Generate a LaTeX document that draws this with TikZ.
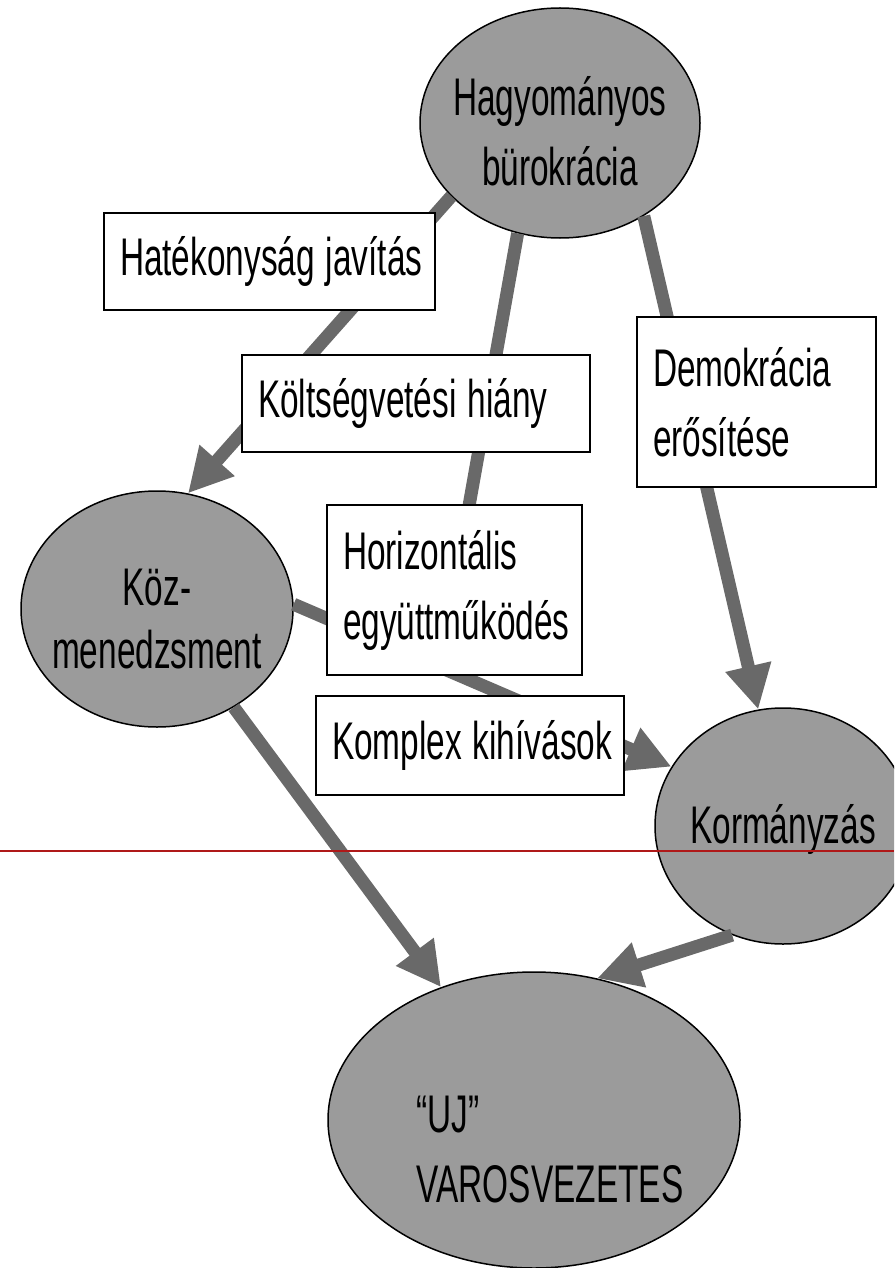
\documentclass[tikz,border=0pt]{standalone}
\usepackage{fontspec}
\setmainfont{Liberation Sans}[FakeStretch=0.63]
\usepackage{tikz}
\usetikzlibrary{shapes.geometric, arrows.meta}
\definecolor{bubble_grey}{RGB}{155, 155, 155}
\definecolor{arrow_grey}{RGB}{105, 105, 105}
\definecolor{scan_red}{RGB}{175, 25, 25}
\tikzstyle{bubble} = [ellipse, draw=black, line width=1.5pt, fill=bubble_grey, inner sep=0pt]
\tikzstyle{textbox} = [rectangle, draw=black, line width=2pt, fill=white, inner xsep=16pt, inner ysep=0pt, align=left, execute at begin node={\spaceskip=11pt\relax}]
\tikzstyle{arrow} = [line width=13pt, draw=arrow_grey, -{Triangle[length=44pt, width=44pt]}]
\tikzstyle{shaft} = [line width=13pt, draw=arrow_grey]

\begin{document}
\begin{tikzpicture}[x=1pt, y=-1pt, font=\fontsize{53}{70}\selectfont, every label/.style={align=center}]
        \clip (0,0) rectangle (894,1268);

        \node (hag) [bubble, minimum width=280pt, minimum height=230pt, label={[yshift=-8pt]center:{Hagyományos\\bürokrácia}}] at (560,123) {};
        \node (koz) [bubble, minimum width=272pt, minimum height=236pt, label={[yshift=-10pt, font=\fontsize{53}{63}\selectfont]center:{Köz-\\menedzsment}}] at (157,609) {};
        \node (korm) [bubble, minimum width=256pt, minimum height=236pt, label={[yshift=-3pt]center:{Kormányzás}}] at (783,826) {};
        \node (uj) [bubble, minimum width=412pt, minimum height=296pt, label={[xshift=16pt, yshift=-30pt, align=left]center:{“UJ”\\VAROSVEZETES}}] at (534,1120) {};
        \coordinate (join) at (454,590);

        \draw [arrow] (hag.214) -- (koz.75);
        \draw [shaft] (hag.249) -- (join);
        \draw [arrow] (hag.-48) -- (korm.102);
        \draw [arrow] (koz.2) -- (korm.152);
        \draw [arrow] (koz.-52) -- (uj.125);
        \draw [arrow] (korm.245) -- (uj.66);

        \node (hatekony) [textbox, text width=299pt, minimum height=97pt] at (269.5,261.5) {\mbox{Hatékonyság javítás}};
        \node (koltseg) [textbox, text width=316pt, minimum height=97pt] at (416,403.5) {\mbox{Költségvetési hiány}};
        \node (demokr) [textbox, text width=207pt, minimum height=170pt] at (756.5,402) {Demokrácia\\erősítése};
        \node (horiz) [textbox, text width=223pt, minimum height=170pt] at (454.5,590) {Horizontális\\együttműködés};
        \node (komplex) [textbox, text width=276pt, minimum height=99pt] at (470,745.5) {\mbox{Komplex kihívások}};

        \draw [scan_red, line width=2pt] (0,851) -- (894,851);
    \end{tikzpicture}
\end{document}
